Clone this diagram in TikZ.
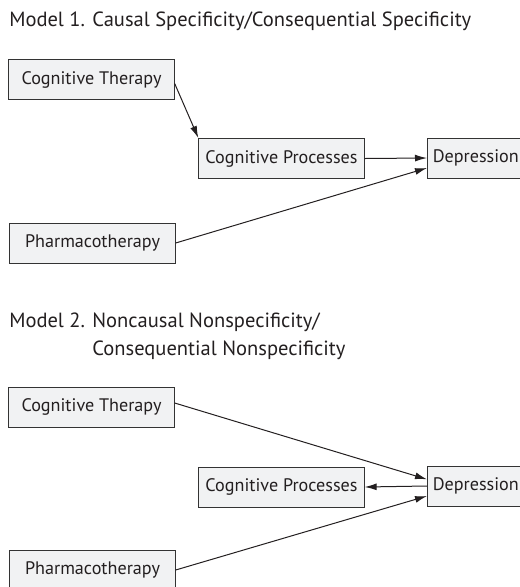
\documentclass[tikz,border=0pt]{standalone}
\usepackage{fontspec}
\setmainfont{PT Sans}
\usetikzlibrary{arrows.meta, positioning}

\definecolor{boxfill}{HTML}{F1F2F3}
\definecolor{boxline}{HTML}{333333}
\definecolor{ink}{HTML}{231F20}

\begin{document}
\begin{tikzpicture}[
    x=0.75pt, y=-0.75pt,
    var/.style={
        rectangle, draw=boxline, fill=boxfill, line width=0.75pt,
        text=ink, font=\fontsize{13.6}{16}\selectfont,
        minimum width=124pt, minimum height=30pt, inner sep=0pt
    },
    outc/.style={var, minimum width=0pt, inner xsep=4pt},
    title/.style={anchor=base west, inner sep=0pt, align=left, text=ink,
        font=\fontsize{15.4}{20}\selectfont},
    path/.style={-{Latex[length=9pt, width=5.2pt]}, line width=0.75pt, draw=ink}
]
\useasboundingbox (0,0) rectangle (520,587);

% --- Model 1 ---
\node[title] (T1) at (9,26) {Model 1. Causal Specificity/Consequential Specificity};

\node[var] (CT1) at (91.5,79.5) {Cognitive Therapy};
\node[var] (CP1) at (281.5,158.5) {Cognitive Processes};
\node[outc, anchor=west] (D1) at (427,158) {Depression};
\node[var] (PH1) at (92.5,243) {Pharmacotherapy};

\draw[path] ([yshift=-3pt]CT1.east) -- (CP1.north west);
\draw[path] (CP1.east) -- (D1.west);
\draw[path] (PH1.east) -- ([yshift=-7.5pt]D1.west);

% --- Model 2 ---
\node[title] (T2) at (9,327) {Model 2. \begin{tabular}[t]{@{}l@{}}Noncausal Nonspecificity/\\[1.5pt]Consequential Nonspecificity\end{tabular}};

\node[var] (CT2) at (91.5,407) {Cognitive Therapy};
\node[var] (CP2) at (281.5,487) {Cognitive Processes};
\node[outc, anchor=west] (D2) at (427,486) {Depression};
\node[var] (PH2) at (92.5,570) {Pharmacotherapy};

\draw[path] ([yshift=3pt]CT2.east) -- ([yshift=5pt]D2.west);
\draw[path] (D2.west) -- (CP2.east);
\draw[path] (PH2.east) -- ([yshift=-7.5pt]D2.west);

\end{tikzpicture}
\end{document}
